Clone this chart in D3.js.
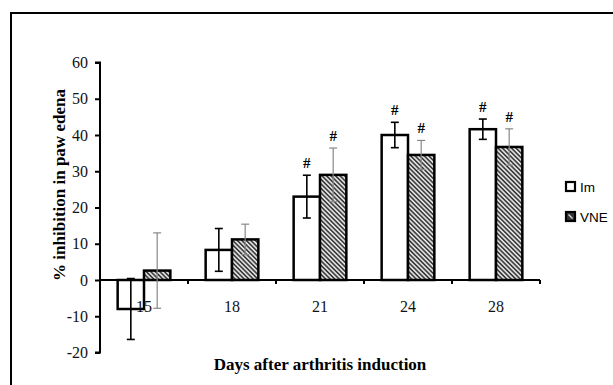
<!DOCTYPE html>
<meta charset="utf-8">
<style>

body {
  margin: 0;
  background: #fff;
}

text {
  font-family: "Liberation Serif", "Times New Roman", serif;
}

</style>
<body>
<script src="https://cdn.jsdelivr.net/npm/d3@7"></script>
<script>

var days = ["15", "18", "21", "24", "28"],
    series = ["Im", "VNE"];

var imValues = [-8, 8.3, 23, 40, 41.6],
    imErrors = [8.4, 5.9, 5.9, 3.5, 2.8],
    imSig = [false, false, true, true, true];

var vneValues = [2.6, 11.2, 29, 34.5, 36.7],
    vneErrors = [10.4, 4.2, 7.4, 4, 5],
    vneSig = [false, false, true, true, true];

var yTicks = [-20, -10, 0, 10, 20, 30, 40, 50, 60];

var w = 613,
    h = 385;

var svg = d3.select("body").append("svg")
    .attr("width", w)
    .attr("height", h);

// hatch for VNE bars
var defs = svg.append("defs");
defs.append("pattern")
    .attr("id", "hatch")
    .attr("patternUnits", "userSpaceOnUse")
    .attr("width", 3.2)
    .attr("height", 3.2)
    .attr("patternTransform", "rotate(-45)")
  .call(function(p) {
    p.append("rect").attr("width", 3.2).attr("height", 3.2).attr("fill", "#f4f4f4");
    p.append("line").attr("x1", 1).attr("y1", 0).attr("x2", 1).attr("y2", 3.2)
        .attr("stroke", "#2a2a2a").attr("stroke-width", 1.6);
  });

// frame (top and left edges only, the rest is cropped)
svg.append("path")
    .attr("d", "M11,385V13H613")
    .attr("fill", "none")
    .attr("stroke", "#000")
    .attr("stroke-width", 2);

var y = d3.scaleLinear().domain([-20, 60]).range([352.5, 62.5]);

var x = d3.scaleBand().domain(days).range([100, 540]);

var x1 = d3.scaleBand().domain(series).range([0, x.bandwidth()])
    .paddingInner(0).paddingOuter(0.67);

var rows = days.map(function(d, i) {
  return [
    {day: d, s: "Im", v: imValues[i], e: imErrors[i], sig: imSig[i]},
    {day: d, s: "VNE", v: vneValues[i], e: vneErrors[i], sig: vneSig[i]}
  ];
});
var flat = [].concat.apply([], rows);

// y axis
var yAxis = d3.axisLeft(y).tickValues(yTicks).tickSize(5).tickPadding(7)
    .tickFormat(function(d) { return String(d); });
var ya = svg.append("g")
    .attr("transform", "translate(100,0)")
    .call(yAxis);
ya.select(".domain").attr("stroke-width", 2).attr("d", "M-5,62.5H0V352.5H-5");
ya.selectAll(".tick line").attr("stroke-width", 2);
ya.selectAll(".tick text")
    .style("font-family", "'Liberation Serif', serif")
    .style("font-size", "16px")
    .attr("fill", "#111");

// bars
svg.selectAll("rect.bar")
    .data(flat)
  .enter().append("rect")
    .attr("class", "bar")
    .attr("x", function(d) { return x(d.day) + x1(d.s); })
    .attr("y", function(d) { return y(Math.max(0, d.v)); })
    .attr("width", x1.bandwidth())
    .attr("height", function(d) { return Math.abs(y(d.v) - y(0)); })
    .attr("fill", function(d) { return d.s == "Im" ? "#fff" : "url(#hatch)"; })
    .attr("stroke", "#000")
    .attr("stroke-width", 2.5);

// x axis line and ticks at band boundaries
svg.append("line")
    .attr("x1", 100).attr("x2", 540)
    .attr("y1", y(0)).attr("y2", y(0))
    .attr("stroke", "#000").attr("stroke-width", 2);

svg.selectAll("line.xtick")
    .data(days)
  .enter().append("line")
    .attr("class", "xtick")
    .attr("x1", function(d) { return x(d) + x.bandwidth(); })
    .attr("x2", function(d) { return x(d) + x.bandwidth(); })
    .attr("y1", y(0)).attr("y2", y(0) + 4)
    .attr("stroke", "#000").attr("stroke-width", 2);

// error bars
var err = svg.selectAll("g.err")
    .data(flat)
  .enter().append("g")
    .attr("class", "err")
    .attr("stroke", function(d) { return d.s == "Im" ? "#000" : "#888"; })
    .attr("stroke-width", function(d) { return d.s == "Im" ? 1.6 : 1.2; });

function cx(d) { return x(d.day) + x1(d.s) + x1.bandwidth() / 2; }

err.append("line")
    .attr("x1", cx).attr("x2", cx)
    .attr("y1", function(d) { return y(d.v + d.e); })
    .attr("y2", function(d) { return y(d.v - d.e); });
err.append("line")
    .attr("x1", function(d) { return cx(d) - 4; })
    .attr("x2", function(d) { return cx(d) + 4; })
    .attr("y1", function(d) { return y(d.v + d.e); })
    .attr("y2", function(d) { return y(d.v + d.e); });
err.append("line")
    .attr("x1", function(d) { return cx(d) - 4; })
    .attr("x2", function(d) { return cx(d) + 4; })
    .attr("y1", function(d) { return y(d.v - d.e); })
    .attr("y2", function(d) { return y(d.v - d.e); });

// significance marks
svg.selectAll("text.sig")
    .data(flat.filter(function(d) { return d.sig; }))
  .enter().append("text")
    .attr("class", "sig")
    .attr("x", cx)
    .attr("y", function(d) { return y(d.v + d.e) - 7; })
    .attr("text-anchor", "middle")
    .style("font-size", "15px")
    .style("font-weight", "bold")
    .text("#");

// category labels
svg.selectAll("text.day")
    .data(days)
  .enter().append("text")
    .attr("class", "day")
    .attr("x", function(d) { return x(d) + x.bandwidth() / 2; })
    .attr("y", 312)
    .attr("text-anchor", "middle")
    .style("font-size", "16px")
    .attr("fill", "#111")
    .text(function(d) { return d; });

// axis titles
svg.append("text")
    .attr("x", 320)
    .attr("y", 370)
    .attr("text-anchor", "middle")
    .style("font-size", "17px")
    .style("font-weight", "bold")
    .text("Days after arthritis induction");

svg.append("text")
    .attr("transform", "translate(65,185) rotate(-90)")
    .attr("text-anchor", "middle")
    .style("font-size", "17px")
    .style("font-weight", "bold")
    .text("% inhibition in paw edena");

// legend
var legend = svg.selectAll("g.legend")
    .data(series)
  .enter().append("g")
    .attr("class", "legend")
    .attr("transform", function(d, i) { return "translate(566," + (182 + i * 30) + ")"; });

legend.append("rect")
    .attr("width", 9)
    .attr("height", 9)
    .attr("fill", function(d) { return d == "Im" ? "#fff" : "#333"; })
    .attr("stroke", "#000")
    .attr("stroke-width", 2.2);

legend.filter(function(d) { return d == "VNE"; }).append("line")
    .attr("x1", 2.5).attr("y1", 2.5).attr("x2", 6.5).attr("y2", 6.5)
    .attr("stroke", "#ddd").attr("stroke-width", 1.2);

legend.append("text")
    .attr("x", 14)
    .attr("y", 9.5)
    .style("font-family", "'Liberation Sans', Arial, sans-serif")
    .style("font-size", "13.5px")
    .text(function(d) { return d; });

</script>
